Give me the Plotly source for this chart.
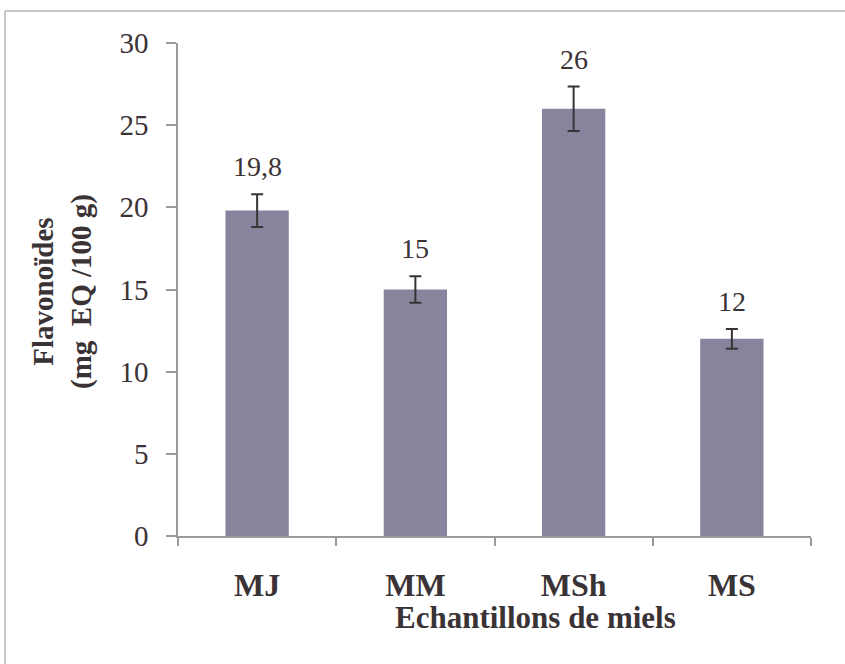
import plotly.graph_objects as go

# Flavonoid content of the honey samples (mg EQ / 100 g)
categories = ["MJ", "MM", "MSh", "MS"]
values = [19.8, 15, 26, 12]
errors = [1.0, 0.8, 1.35, 0.6]
y_ticks = [0, 5, 10, 15, 20, 25, 30]

bar_color = "#88849d"
text_color = "#3a3336"
axis_color = "#9a9a9a"
serif = "Liberation Serif, Times New Roman, serif"


def fmt(v):
    s = f"{v:g}"
    return s.replace(".", ",")


fig = go.Figure()
fig.add_trace(go.Bar(
    x=categories,
    y=values,
    width=0.4,
    marker=dict(color=bar_color, line=dict(width=0)),
    error_y=dict(type="data", array=errors, visible=True,
                 color="#3a3336", thickness=2, width=6),
    hoverinfo="skip",
))

# value labels above each error bar
for c, v, e in zip(categories, values, errors):
    fig.add_annotation(x=c, y=v + e, text=fmt(v), showarrow=False,
                       yanchor="bottom", yshift=10,
                       font=dict(family=serif, size=28, color=text_color))

L, R, T, B = 178, 34, 43, 128
W, H = 845, 664
pw, ph = W - L - R, H - T - B

fig.update_layout(
    width=W, height=H,
    margin=dict(l=L, r=R, t=T, b=B),
    plot_bgcolor="white", paper_bgcolor="white",
    showlegend=False,
    bargap=0.6,
    xaxis=dict(
        type="category",
        showline=True, linecolor=axis_color, linewidth=1.5,
        ticks="outside", tickson="boundaries", ticklen=8,
        tickcolor=axis_color, tickwidth=1.5,
        showgrid=False, zeroline=False,
        ticklabelstandoff=20,
        tickfont=dict(family=serif, size=32, color=text_color,
                      weight="bold"),
    ),
    yaxis=dict(
        range=[0, 30], tickvals=y_ticks,
        showline=True, linecolor=axis_color, linewidth=1.5,
        ticks="outside", ticklen=10, tickcolor=axis_color, tickwidth=1.5,
        showgrid=False, zeroline=False,
        ticklabelstandoff=12,
        tickfont=dict(family=serif, size=29, color=text_color),
    ),
)

# axis titles
fig.add_annotation(
    xref="paper", yref="paper",
    x=(535 - L) / pw, y=-(617 - (T + ph)) / ph,
    text="<b>Echantillons de miels</b>", showarrow=False,
    xanchor="center", yanchor="middle",
    font=dict(family=serif, size=31, color=text_color),
)
fig.add_annotation(
    xref="paper", yref="paper",
    x=(62 - L) / pw, y=(T + ph - 292) / ph,
    text="<b>Flavonoïdes</b><br><b>(mg  EQ /100 g)</b>", showarrow=False,
    textangle=-90, xanchor="center", yanchor="middle",
    font=dict(family=serif, size=29, color=text_color),
)

# outer frame: top and left edges
frame_x0 = (5 - L) / pw
frame_x1 = (W - L) / pw
frame_y0 = (T + ph - 11) / ph
frame_yb = (T + ph - H) / ph
fig.add_shape(type="line", xref="paper", yref="paper",
              x0=frame_x0, x1=frame_x1, y0=frame_y0, y1=frame_y0,
              line=dict(color="#b5b5b5", width=1.5))
fig.add_shape(type="line", xref="paper", yref="paper",
              x0=frame_x0, x1=frame_x0, y0=frame_y0, y1=frame_yb,
              line=dict(color="#b5b5b5", width=1.5))

fig.write_html("out.html")
